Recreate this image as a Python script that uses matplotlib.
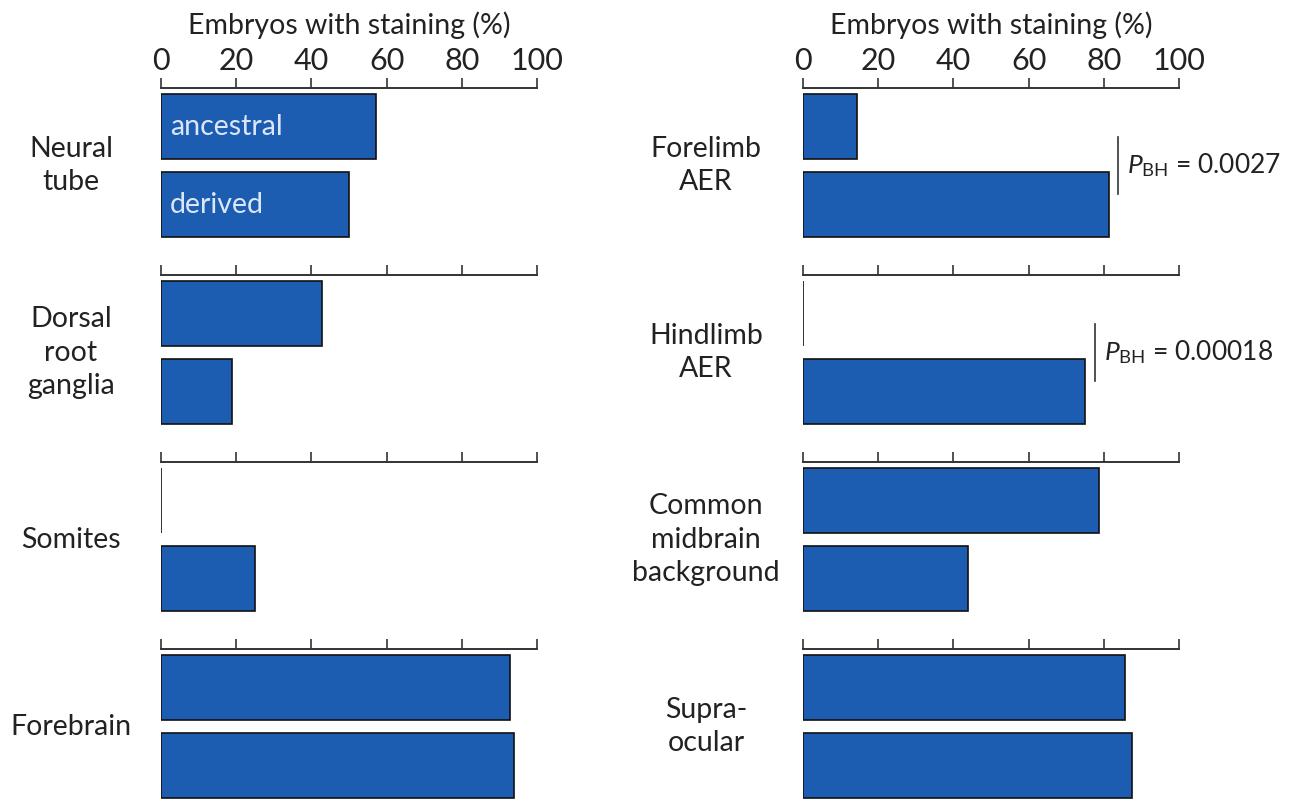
import matplotlib.pyplot as plt
from matplotlib.transforms import blended_transform_factory

plt.rcParams['font.family'] = ['Lato', 'DejaVu Sans']
plt.rcParams['mathtext.fontset'] = 'custom'
plt.rcParams['mathtext.rm'] = 'Lato'
plt.rcParams['mathtext.it'] = 'Lato:italic'

# % of embryos with staining, (ancestral, derived) per tissue
left_tissues = ["Neural\ntube", "Dorsal\nroot\nganglia", "Somites", "Forebrain"]
left_ancestral = [57.1, 42.9, 0.0, 92.9]
left_derived = [50.0, 18.8, 25.0, 93.8]

right_tissues = ["Forelimb\nAER", "Hindlimb\nAER", "Common\nmidbrain\nbackground", "Supra-\nocular"]
right_ancestral = [14.3, 0.0, 78.6, 85.7]
right_derived = [81.3, 75.0, 43.8, 87.5]

# significance marks: (column, panel, x of bracket, label)
pvalues = [(1, 0, 83.8, r"$\mathit{P}_{\mathrm{BH}}$ = 0.0027"),
           (1, 1, 77.7, r"$\mathit{P}_{\mathrm{BH}}$ = 0.00018")]

BAR_COLOR = "#1d5db1"
EDGE = "#111111"
AXIS_COLOR = "#333333"
TEXT_COLOR = "#222222"
FS = 20.5

W, H = 1293, 800
fig = plt.figure(figsize=(W / 100, H / 100), dpi=100)

spine_px = [88, 275, 462, 649]
col_x0 = [161, 803]
col_w = 376
label_cx = [71, 706]
panel_h = 150
ytop = -0.4167 - 6 / 78
ybot = ytop + panel_h / 78

columns = [(left_tissues, left_ancestral, left_derived),
           (right_tissues, right_ancestral, right_derived)]

axes = {}
for c, (tissues, anc, der) in enumerate(columns):
    for p, name in enumerate(tissues):
        bottom = 1 - (spine_px[p] + panel_h) / H
        ax = fig.add_axes([col_x0[c] / W, bottom, col_w / W, panel_h / H])
        axes[(c, p)] = ax
        ax.barh([0, 1], [anc[p], der[p]], height=0.833, color=BAR_COLOR,
                edgecolor=EDGE, linewidth=1.2)
        ax.set_xlim(0, 100)
        ax.set_ylim(ybot, ytop)
        for s in ["left", "right", "bottom"]:
            ax.spines[s].set_visible(False)
        ax.spines["top"].set_color(AXIS_COLOR)
        ax.spines["top"].set_linewidth(1.4)
        ax.xaxis.tick_top()
        ax.set_xticks([0, 20, 40, 60, 80, 100])
        ax.tick_params(axis="x", direction="out", length=7, width=1.2,
                       color=AXIS_COLOR, labelsize=22, labelcolor=TEXT_COLOR, pad=2)
        ax.set_yticks([])
        if p != 0:
            ax.tick_params(axis="x", labeltop=False)
        else:
            ax.xaxis.set_label_position("top")
            ax.set_xlabel("Embryos with staining (%)", fontsize=FS,
                          color=TEXT_COLOR, labelpad=10)
        tr = blended_transform_factory(fig.transFigure, ax.transData)
        ax.text(label_cx[c] / W, 0.5, name, transform=tr, ha="center",
                va="center", multialignment="center", fontsize=FS,
                color=TEXT_COLOR, linespacing=1.38)
        for spine in ax.spines.values():
            spine.set_zorder(0)

# series names inside the first pair of bars
ax0 = axes[(0, 0)]
ax0.text(2.4, 0, "ancestral", ha="left", va="center", fontsize=FS, color="#dbe7f6")
ax0.text(2.4, 1, "derived", ha="left", va="center", fontsize=FS, color="#dbe7f6")

for c, p, x, label in pvalues:
    ax = axes[(c, p)]
    ax.plot([x, x], [0.13, 0.865], color=AXIS_COLOR, linewidth=1.2, clip_on=False)
    ax.text(x + 2.3, 0.5, label, ha="left", va="center", fontsize=19,
            color=TEXT_COLOR, clip_on=False)

fig.savefig("out.png", dpi=100)
